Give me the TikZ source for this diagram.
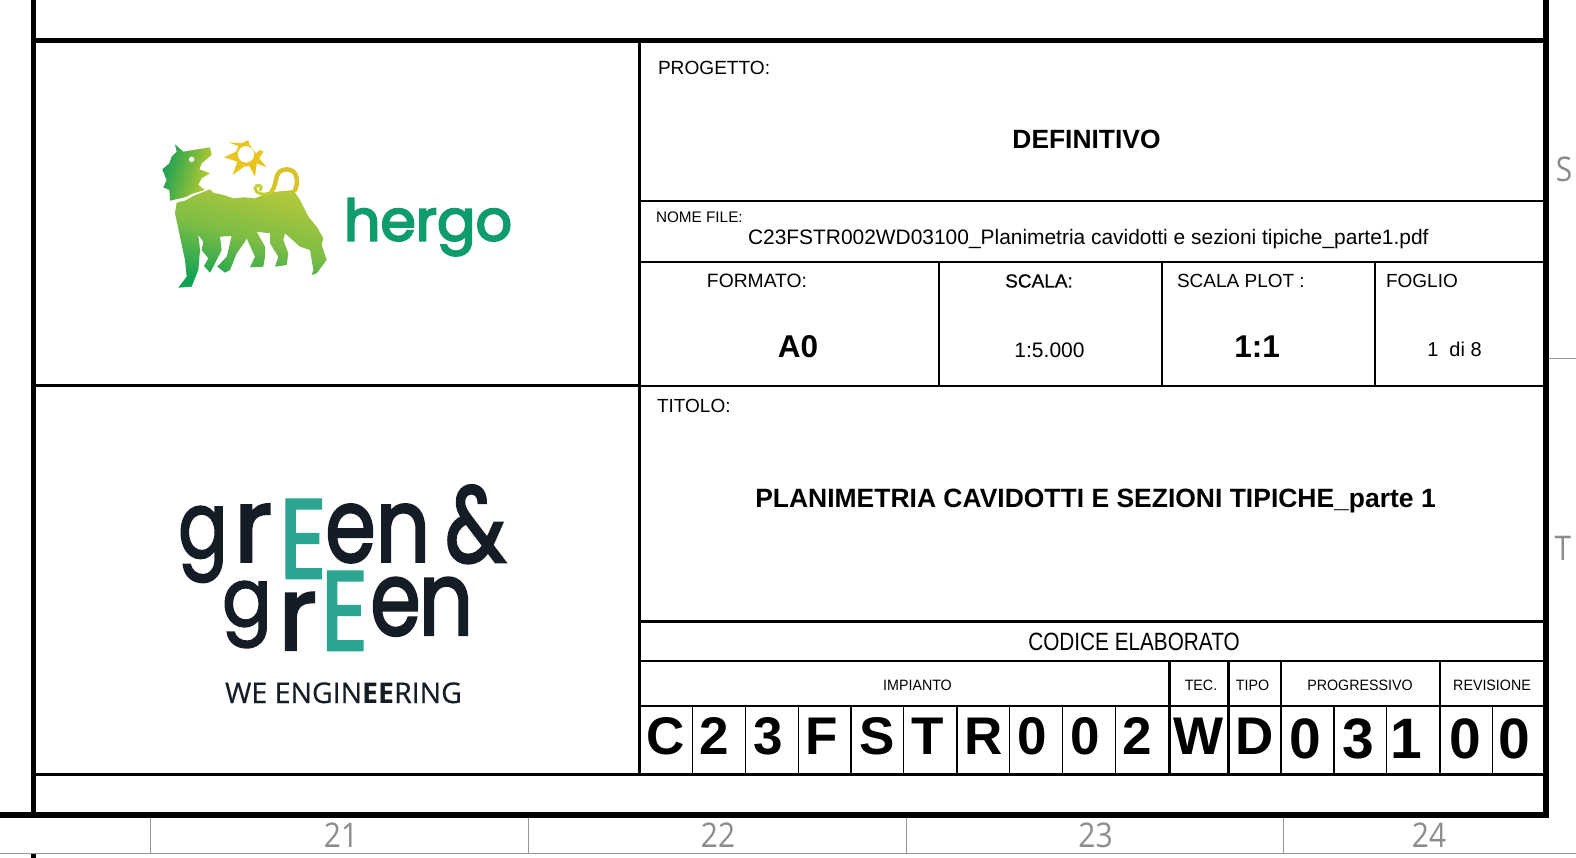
\documentclass[tikz,border=0pt]{standalone}
\usepackage{fontspec}
\setmainfont{Liberation Sans}
\newfontfamily\numfont{Open Sans}
\newfontfamily\logofont[FakeBold=2.4]{Poppins}
\newfontfamily\herfont[FakeBold=3.5]{Poppins}
\newfontfamily\wefont[FakeBold=.5]{Open Sans}
\newfontfamily\wefontb{Open Sans Bold}
\newfontfamily\scalafont[FakeBold=.6]{Liberation Sans}
\newcommand{\fs}[1]{\fontsize{#1}{#1}\selectfont}
\definecolor{gridgray}{HTML}{8C8C8C}
\definecolor{hergreen}{HTML}{0E9C6B}
\definecolor{logodark}{HTML}{141C26}
\definecolor{logoteal}{HTML}{2AA58F}
\definecolor{liontop}{HTML}{B4C83A}
\definecolor{lionmid}{HTML}{7DBD45}
\definecolor{lionbot}{HTML}{0FA254}
\definecolor{headlo}{HTML}{169E55}
\definecolor{headhi}{HTML}{C4CE2C}
\definecolor{sunyel}{HTML}{E8C51E}
\definecolor{tailyel}{HTML}{D8C428}
\tikzset{
  lbl/.style={inner sep=0pt,outer sep=0pt,anchor=base},
  lbll/.style={inner sep=0pt,outer sep=0pt,anchor=base west},
  big/.style={lbl,font=\bfseries\fs{53}},
  bigb/.style={lbl,font=\bfseries\fs{57}},
  small/.style={lbl,font=\fs{15},xscale=.95},
  gridnum/.style={lbl,font=\numfont\fs{34},text=gridgray,xscale=.88},
  lx/.style={lbl,font=\logofont\fs{103},text=logodark},
  le/.style={lbl,font=\logofont\fs{112},text=logoteal,xscale=.82},
  thickl/.style={line width=5.5pt},
  midl/.style={line width=3pt},
  thinl/.style={line width=2pt},
  grayl/.style={line width=1pt,draw=gridgray!90},
}
\begin{document}
\begin{tikzpicture}[x=1pt,y=-1pt]
\useasboundingbox[fill=white] (0,0) rectangle (1576,858);
% frame
\draw[thickl] (33.5,0) -- (33.5,815);
\draw[thickl] (33.5,853) -- (33.5,858);
\draw[line width=6pt] (0,815) -- (1549,815);
\draw[line width=6pt] (1546,0) -- (1546,818);
\draw[line width=5pt] (33,41) -- (1546,41);
% grid
\draw[grayl] (0,853.5) -- (1576,853.5);
\draw[grayl] (1549,358.5) -- (1576,358.5);
\foreach \xx in {150.5,528.5,906,1283.5} \draw[grayl] (\xx,818) -- (\xx,853.5);
% block lines
\draw[midl] (33,774.5) -- (1546,774.5);
\draw[midl] (639.5,41) -- (639.5,774.5);
\draw[midl] (33,385.5) -- (640,385.5);
\draw[thinl] (640,201) -- (1546,201);
\draw[thinl] (640,262.5) -- (1546,262.5);
\draw[thinl] (640,386) -- (1546,386);
\draw[midl] (640,621) -- (1546,621);
\draw[thinl] (640,661) -- (1546,661);
\draw[thinl] (640,706) -- (1546,706);
\draw[thinl] (938.7,262.5) -- (938.7,387);
\draw[thinl] (1162,262.5) -- (1162,386);
\draw[thinl] (1375,262.5) -- (1375,386);
\foreach \xx in {692.3,745.3,798.3,851,903.7,957,1009.7,1062.7,1115.5,1334,1386.7,1492.7}
  \draw[line width=1.5pt] (\xx,706) -- (\xx,774.5);
\foreach \xx in {1169.3,1228.3,1281,1440}
  \draw[line width=2.6pt] (\xx,661) -- (\xx,774.5);
% header texts
\node[lbll,font=\fs{19.1}] (progetto) at (658,75) {PROGETTO:};
\node[lbl,font=\bfseries\fs{26.4}] (definitivo) at (1086.5,148.5) {DEFINITIVO};
\node[lbll,font=\fs{15.3}] (nomefile) at (656,222.5) {NOME FILE:};
\node[lbll,font=\fs{20.93}] (filename) at (748,244.5) {C23FSTR002WD03100\_Planimetria cavidotti e sezioni tipiche\_parte1.pdf};
\node[lbl,font=\fs{19.3}] (formato) at (757,288) {FORMATO:};
\node[lbl,font=\scalafont\fs{19}] (scala) at (1039,287.5) {SCALA:};
\node[lbll,font=\fs{19}] (scalaplot) at (1177,288) {SCALA PLOT :};
\node[lbll,font=\fs{19}] (foglio) at (1386,288) {FOGLIO};
\node[lbl,font=\bfseries\fs{31.5}] (a0) at (798,358) {A0};
\node[lbl,font=\fs{21}] (sc) at (1049.5,357.5) {1:5.000};
\node[lbl,font=\bfseries\fs{31.5}] (oneone) at (1257,358) {1:1};
\node[lbl,font=\fs{20}] (dio) at (1454.5,356) {1\hspace{.55em}di 8};
\node[lbll,font=\fs{19}] (titolo) at (657,412) {TITOLO:};
\node[lbl,font=\bfseries\fs{26.47}] (title) at (1095.5,507) {PLANIMETRIA CAVIDOTTI E SEZIONI TIPICHE\_parte 1};
\node[lbl,font=\fs{25},xscale=.83] (codice) at (1134,650) {CODICE ELABORATO};
\node[small] (impianto) at (917.5,690) {IMPIANTO};
\node[small] (tec) at (1201,690) {TEC.};
\node[small] (tipo) at (1252.5,690) {TIPO};
\node[small] (progressivo) at (1360,690) {PROGRESSIVO};
\node[small] (revisione) at (1492,690) {REVISIONE};
% code letters
\node[big] (l1) at (666,754) {C};
\node[big] (l2) at (714.5,754) {2};
\node[big] (l3) at (768,754) {3};
\node[big] (l4) at (822,754) {F};
\node[big] (l5) at (877,754) {S};
\node[big] (l6) at (928,754) {T};
\node[big] (l7) at (984,754) {R};
\node[big] (l8) at (1032.5,754) {0};
\node[big] (l9) at (1085,754) {0};
\node[big] (l10) at (1137,754) {2};
\node[big] (l11) at (1198.5,754) {W};
\node[big] (l12) at (1255,754) {D};
\node[bigb] (l13) at (1305,758) {0};
\node[bigb] (l14) at (1358.5,758) {3};
\node[bigb] (l15) at (1406,758) {1};
\node[bigb] (l16) at (1465,758) {0};
\node[bigb] (l17) at (1514,758) {0};
% grid labels
\node[gridnum] (n21) at (341,847) {21};
\node[gridnum] (n22) at (718,847) {22};
\node[gridnum] (n23) at (1095.5,847) {23};
\node[gridnum] (n24) at (1429,847) {24};
\node[gridnum] (ls) at (1564,182) {S};
\node[gridnum] (lt) at (1563,560) {T};
% hergo lion
\begin{scope}[shift={(130,110)},scale=1/3]
 \shade[top color=liontop,bottom color=lionbot,middle color=lionmid,shading angle=-15]
 (140,278)--(165,272)--(190,258)--(240,238)--(250,248)--(280,255)--(310,265)--(340,262)--(375,265)--(400,255)--(440,245)--(490,240)--(510,270)--(535,320)--(560,350)--(580,385)--(575,405)--(590,450)--(560,490)--(545,495)--(550,480)--(540,420)--(510,410)--(465,370)--(460,390)--(475,430)--(470,465)--(435,470)--(445,440)--(420,400)--(420,370)--(380,365)--(405,410)--(405,440)--(400,470)--(360,472)--(375,440)--(350,385)--(345,395)--(320,430)--(300,480)--(285,488)--(262,470)--(290,440)--(295,420)--(305,378)--(270,380)--(275,420)--(250,470)--(240,488)--(222,468)--(235,445)--(215,420)--(220,395)--(205,375)--(210,420)--(205,480)--(185,530)--(145,533)--(170,500)--(165,450)--(150,380)--(135,310)--cycle;
 \shade[left color=headlo,right color=headhi,shading angle=75]
 (135,103)--(160,125)--(240,112)--(245,135)--(215,160)--(208,178)--(240,190)--(215,205)--(205,225)--(225,240)--(190,250)--(165,262)--(120,272)--(118,240)--(100,232)--(110,210)--(97,178)--(118,160)--(125,140)--(140,125)--cycle;
 \fill[white] (185,148) circle (8);
 \fill[sunyel,even odd rule]
 (282,142)--(318,125)--(325,108)--(295,97)--(335,100)--(355,90)--(358,103)--(378,130)--(390,120)--(400,125)--(388,145)--(410,172)--(380,160)--(375,200)--(358,168)--(342,170)--(308,195)--(322,155)--cycle
 (348,133) circle (25);
 \draw[line width=4.5pt,draw=tailyel,line cap=round]
 (425,245) .. controls (445,215) and (430,180) .. (470,178) .. controls (505,178) and (505,220) .. (495,240);
 \draw[line width=3pt,draw=headhi,line cap=round]
 (425,245) .. controls (405,260) and (375,250) .. (375,235) .. controls (378,220) and (400,225) .. (392,240);
\end{scope}
\node[lbl,font=\herfont\fs{57},text=hergreen] (hergo) at (428,240.5) {hergo};
% green & green
\node[lx,xscale=.71,yscale=.89] (g1) at (203,557.5) {g};
\node[lx] (r1) at (253,561.7) {r};
\node[le] (e1) at (303,578) {E};
\node[lx,xscale=.79] (ee1) at (350.5,561.7) {e};
\node[lx,xscale=.83] (n1) at (403,561.7) {n};
\node[lx,font=\logofont\fs{108},xscale=.76] (amp) at (475.5,562) {\&};
\node[lx,xscale=.71,yscale=.78] (g2) at (247,626) {g};
\node[lx] (r2) at (297.5,650) {r};
\node[le] (e2) at (344.5,650) {E};
\node[lx,xscale=.79] (ee2) at (395.5,635) {e};
\node[lx,xscale=.83] (n2) at (446,635) {n};
\node[lbl,font=\wefont\fs{28.5},text=logodark] (we) at (343.5,703) {WE ENGIN{\wefontb EE}RING};
\end{tikzpicture}
\end{document}
